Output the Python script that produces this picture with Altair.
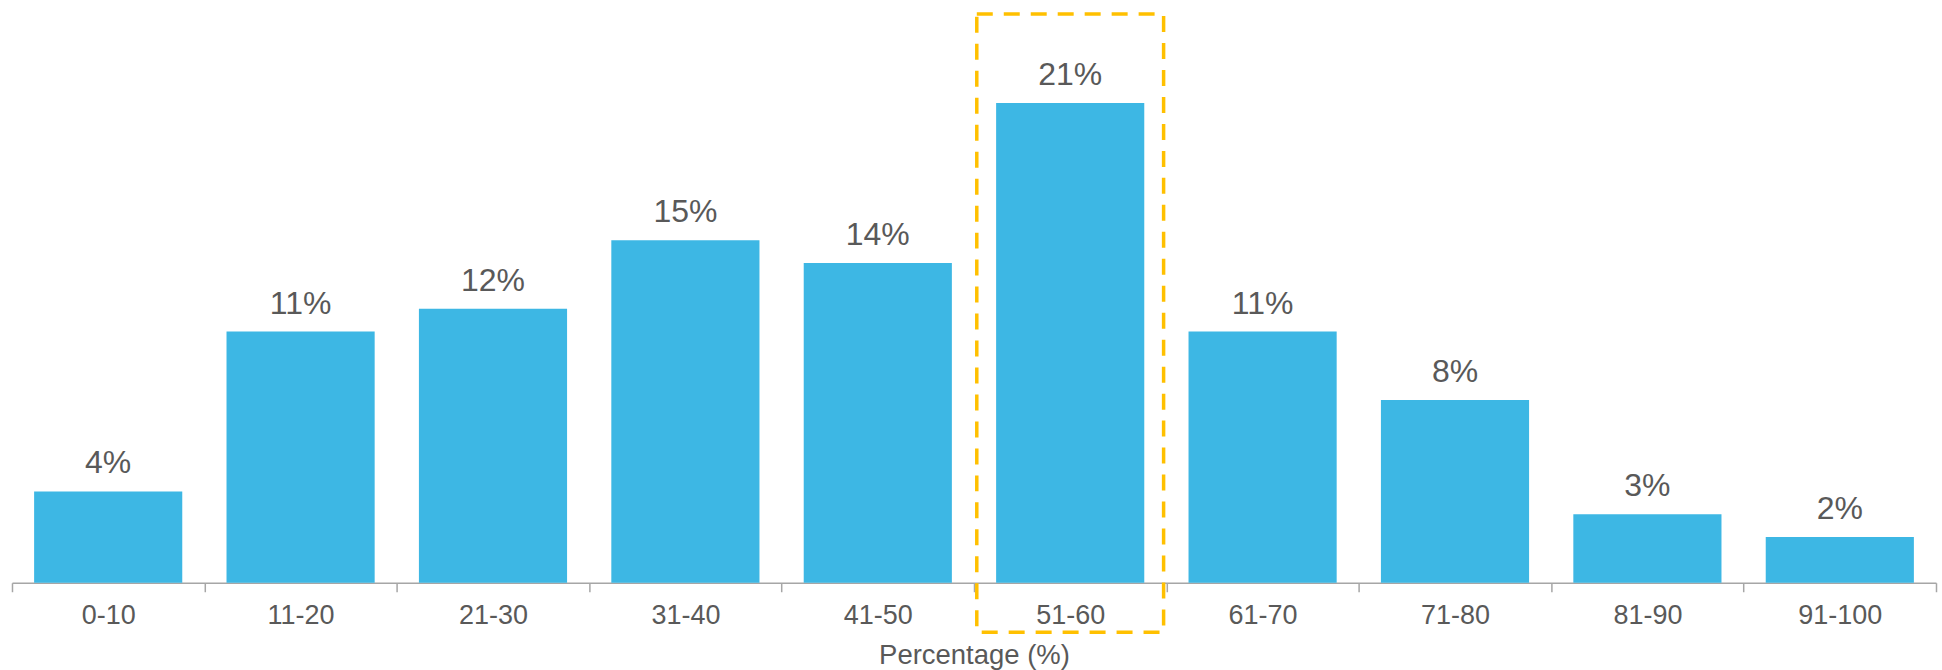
import altair as alt
import pandas as pd

categories = ["0-10", "11-20", "21-30", "31-40", "41-50", "51-60", "61-70", "71-80", "81-90", "91-100"]
values = [4, 11, 12, 15, 14, 21, 11, 8, 3, 2]
highlight_category = "51-60"
highlight_top = 24.9
highlight_bottom = -2.17

df = pd.DataFrame({"cat": categories, "val": values, "label": [f"{v}%" for v in values]})
hl = pd.DataFrame({"cat": [highlight_category], "top": [highlight_top], "bottom": [highlight_bottom]})

FONT = "Liberation Sans"
x_scale = alt.Scale(paddingInner=0, paddingOuter=0)
x_enc = alt.X(
    "cat:N",
    sort=categories,
    scale=x_scale,
    axis=alt.Axis(
        title="Percentage (%)",
        labelAngle=0,
        tickBand="extent",
        tickSize=9,
        tickColor="#A6A6A6",
        domainColor="#A6A6A6",
        domainWidth=1.5,
        tickWidth=1.5,
        labelFont=FONT,
        labelFontSize=27,
        labelColor="#595959",
        labelPadding=11,
        titleFont=FONT,
        titleFontSize=27.5,
        titleFontWeight="normal",
        titleColor="#595959",
        titleBaseline="alphabetic",
        titleY=81,
        grid=False,
    ),
)
y_scale = alt.Scale(domain=[0, 25.5], nice=False, zero=True)

bars = alt.Chart(df).mark_bar(color="#3DB7E4", width=alt.RelativeBandSize(0.77)).encode(
    x=x_enc,
    y=alt.Y("val:Q", scale=y_scale, axis=None),
)

texts = alt.Chart(df).mark_text(
    baseline="alphabetic", dy=-18, font=FONT, fontSize=32, color="#595959"
).encode(
    x=alt.X("cat:N", sort=categories),
    y=alt.Y("val:Q", scale=y_scale),
    text="label:N",
)

box = alt.Chart(hl).mark_bar(
    width=alt.RelativeBandSize(0.971),
    fill=None,
    fillOpacity=0,
    stroke="#FFC000",
    strokeWidth=3.5,
    strokeDash=[16, 11],
    clip=False,
).encode(
    x=alt.X("cat:N", sort=categories),
    y=alt.Y("top:Q", scale=y_scale),
    y2="bottom:Q",
)

chart = alt.layer(bars, texts, box).properties(
    width=1926,
    height=583,
    padding={"left": 11, "top": 0, "right": 5, "bottom": 0},
    background="white",
).configure_view(stroke=None)

chart.save("out.html", embed_options={"renderer": "svg", "actions": False})
